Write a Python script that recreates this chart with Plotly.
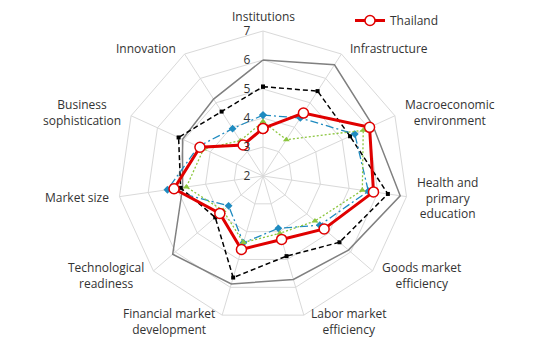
import numpy as np
import plotly.graph_objects as go

# GCI pillars, clockwise from the top
categories = [
    "Institutions", "Infrastructure", "Macroeconomic<br>environment",
    "Health and<br>primary<br>education", "Goods market<br>efficiency",
    "Labor market<br>efficiency", "Financial market<br>development",
    "Technological<br>readiness", "Market size", "Business<br>sophistication",
    "Innovation",
]

thailand = [3.64, 4.58, 6.04, 5.85, 4.79, 4.28, 4.64, 3.97, 5.10, 4.39, 3.27]
black_dashed = [5.08, 5.48, 5.30, 6.35, 5.49, 4.88, 5.65, 4.18, 4.87, 5.20, 4.64]
blue_dashdot = [4.10, 4.38, 5.48, 5.67, 4.59, 3.88, 4.40, 3.57, 5.33, 4.45, 3.94]
green_dotted = [3.87, 3.49, 5.80, 5.46, 4.37, 4.06, 4.39, 3.82, 4.67, 4.25, 3.45]
grey_solid = [6.00, 6.56, 6.17, 6.78, 5.90, 5.72, 5.88, 6.12, 4.80, 5.05, 5.15]

radial_ticks = [2, 3, 4, 5, 6, 7]


def closed(vals):
    return vals + vals[:1]


# page has an 8px body margin, so the figure is a bit smaller than the window
OFF = 8
W, H = 546 - OFF, 343 - OFF
cx, cy, R = 263, 176, 145   # wanted centre / radius in window pixels


def px(x):
    return (x - OFF) / W


def py(y):
    return 1 - (y - OFF) / H


theta = closed(categories)
fig = go.Figure()

fig.add_trace(go.Scatterpolar(
    r=closed(grey_solid), theta=theta, mode="lines",
    line=dict(color="#808080", width=1.5), showlegend=False))
fig.add_trace(go.Scatterpolar(
    r=closed(black_dashed), theta=theta, mode="lines+markers",
    line=dict(color="#000000", width=1.5, dash="5px,3px"),
    marker=dict(symbol="square", size=4, color="#000000"), showlegend=False))
fig.add_trace(go.Scatterpolar(
    r=closed(blue_dashdot), theta=theta, mode="lines+markers",
    line=dict(color="#1f8bc0", width=1.3, dash="8px,3px,2px,3px"),
    marker=dict(symbol="diamond", size=6, color="#1f8bc0"), showlegend=False))
fig.add_trace(go.Scatterpolar(
    r=closed(green_dotted), theta=theta, mode="lines+markers",
    line=dict(color="#8cc63f", width=1.3, dash="2px,2px"),
    marker=dict(symbol="triangle-up", size=6, color="#8cc63f"), showlegend=False))
fig.add_trace(go.Scatterpolar(
    r=closed(thailand), theta=theta, mode="lines+markers", name="Thailand",
    line=dict(color="#e00000", width=3),
    marker=dict(symbol="circle", size=10, color="white",
                line=dict(color="#e00000", width=1.5))))

# category labels, Excel style: beside the outer vertex
annotations = []
n = len(categories)
for i, cat in enumerate(categories):
    a = np.radians(90 - i * 360 / n)
    vx = cx + R * np.cos(a)
    vy = cy - R * np.sin(a)
    if i == 0:
        annotations.append(dict(text=cat, x=px(vx), y=py(vy - 14),
                                xanchor="center", yanchor="middle"))
        continue
    gap = 3 + 6 * abs(np.cos(a))
    annotations.append(dict(
        text=cat, x=px(vx + gap if np.cos(a) > 0 else vx - gap),
        y=py(vy - 7 * np.sin(a)),
        xanchor="left" if np.cos(a) > 0 else "right", yanchor="middle"))
for ann in annotations:
    ann.update(xref="paper", yref="paper", showarrow=False, align="center",
               font=dict(size=12, color="#333333"))

fig.update_layout(
    width=W, height=H,
    margin=dict(l=0, r=0, t=0, b=0, autoexpand=False),
    paper_bgcolor="white",
    font=dict(family="Open Sans", size=12, color="#333333"),
    polar=dict(
        domain=dict(x=[px(cx - R), px(cx + R)], y=[py(cy + R), py(cy - R)]),
        bgcolor="white",
        gridshape="linear",
        radialaxis=dict(
            range=[2, 7], tickvals=radial_ticks,
            ticktext=[str(t) for t in radial_ticks],
            angle=90, side="counterclockwise", tickangle=90,
            showline=False, ticks="outside", ticklen=8,
            tickcolor="rgba(0,0,0,0)", gridcolor="#d9d9d9",
            tickfont=dict(size=12, color="#333333")),
        angularaxis=dict(
            rotation=90, direction="clockwise", showticklabels=False,
            gridcolor="#d9d9d9", showline=True, linecolor="#d9d9d9",
            ticks=""),
    ),
    legend=dict(x=px(350), y=py(6), xanchor="left", yanchor="top",
                bgcolor="rgba(0,0,0,0)", font=dict(size=12)),
    annotations=annotations,
)

fig.write_html("out.html")
